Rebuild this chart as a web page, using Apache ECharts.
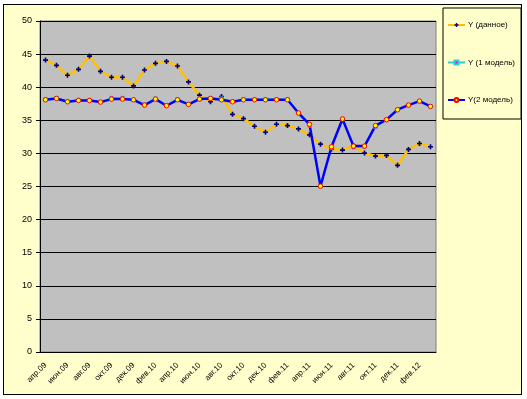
<!DOCTYPE html>
<html>
<head>
<meta charset="utf-8">
<script src="https://cdn.jsdelivr.net/npm/echarts@6/dist/echarts.min.js"></script>
<style>
  html, body { margin: 0; padding: 0; background: #fff; }
  #frame { position: absolute; left: 3px; top: 4px; width: 517px; height: 389px; background: #FFFFCC; border: 1px solid #000; }
  #chart { position: absolute; left: 0; top: 0; width: 527px; height: 399px; }
</style>
</head>
<body>
<div id="frame"></div>
<div id="chart"></div>
<script>
const months = [
  'апр.09', 'май.09', 'июн.09', 'июл.09', 'авг.09', 'сен.09', 'окт.09', 'ноя.09', 'дек.09',
  'янв.10', 'фев.10', 'мар.10', 'апр.10', 'май.10', 'июн.10', 'июл.10', 'авг.10', 'сен.10',
  'окт.10', 'ноя.10', 'дек.10', 'янв.11', 'фев.11', 'мар.11', 'апр.11', 'май.11', 'июн.11',
  'июл.11', 'авг.11', 'сен.11', 'окт.11', 'ноя.11', 'дек.11', 'янв.12', 'фев.12', 'мар.12'
];
const yActual = [
  44.1, 43.3, 41.8, 42.7, 44.7, 42.4, 41.5, 41.5, 40.2, 42.6, 43.6, 43.9,
  43.2, 40.8, 38.8, 37.8, 38.6, 35.9, 35.25, 34.1, 33.2, 34.4, 34.2, 33.7,
  32.8, 31.4, 30.65, 30.5, 31.2, 30.05, 29.6, 29.7, 28.2, 30.6, 31.5, 31.0
];
const yModel1 = [
  38.2, 38.4, 37.9, 38.1, 38.1, 37.8, 38.4, 38.4, 38.1, 37.4, 38.3, 37.3,
  38.2, 37.5, 38.3, 38.4, 38.3, 37.9, 38.2, 38.2, 38.2, 38.2, 38.2, 36.1,
  34.2, 25.0, 30.8, 35.2, 30.9, 31.0, 34.0, 35.0, 36.6, 37.3, 37.9, 37.1
];
const yModel2 = [
  38.1, 38.3, 37.8, 38.0, 38.0, 37.75, 38.2, 38.2, 38.1, 37.3, 38.2, 37.2,
  38.1, 37.4, 38.2, 38.3, 38.1, 37.8, 38.1, 38.1, 38.1, 38.1, 38.1, 36.1,
  34.4, 25.05, 31.0, 35.2, 31.1, 31.1, 34.2, 35.1, 36.6, 37.3, 37.9, 37.1
];

const chart = echarts.init(document.getElementById('chart'));
const font = 'Liberation Sans';
chart.setOption({
  animation: false,
  textStyle: { fontFamily: font },
  grid: {
    left: 40, right: 91, top: 21, bottom: 47,
    show: true, backgroundColor: '#C0C0C0', borderColor: '#808080', borderWidth: 1
  },
  legend: {
    orient: 'vertical',
    left: 443, top: 8,
    padding: [13, 6, 15, 4],
    itemGap: 29.5,
    itemWidth: 17, itemHeight: 5,
    borderColor: '#000', borderWidth: 1,
    textStyle: { fontFamily: font, fontSize: 8, color: '#000', padding: [0, 0, 0, -2] },
    data: ['Y (данное)', 'Y (1 модель)', 'Y(2 модель)']
  },
  xAxis: {
    type: 'category',
    data: months,
    boundaryGap: true,
    axisLine: { lineStyle: { color: '#000', width: 1 } },
    axisTick: { interval: 1, length: 4, lineStyle: { color: '#000' } },
    axisLabel: { interval: 1, rotate: 45, fontSize: 8, color: '#000', margin: 12 },
    splitLine: { show: false }
  },
  yAxis: {
    type: 'value',
    min: 0, max: 50, interval: 5,
    axisLine: { show: true, lineStyle: { color: '#000' } },
    axisTick: { show: true, length: 4, lineStyle: { color: '#000' } },
    axisLabel: { fontSize: 9, color: '#000', margin: 8 },
    splitLine: { lineStyle: { color: '#000', width: 1 } }
  },
  series: [
    {
      name: 'Y (данное)', type: 'line', data: yActual,
      symbol: 'path://M2,0H4V2H6V4H4V6H2V4H0V2H2Z', symbolSize: 5, showAllSymbol: true,
      lineStyle: { color: '#FFC000', width: 2.5 },
      itemStyle: { color: '#000080', borderWidth: 0 }
    },
    {
      name: 'Y (1 модель)', type: 'line', data: yModel1,
      symbol: 'rect', symbolSize: 3.5, showAllSymbol: true,
      lineStyle: { color: '#33CCCC', width: 1.2 },
      itemStyle: { color: '#FF00FF', borderColor: '#33CCCC', borderWidth: 0.5 }
    },
    {
      name: 'Y(2 модель)', type: 'line', data: yModel2,
      symbol: 'circle', symbolSize: 4.5, showAllSymbol: true,
      lineStyle: { color: '#0000FF', width: 2.5 },
      itemStyle: { color: '#FFFF00', borderColor: '#FF0000', borderWidth: 1 }
    }
  ]
});
</script>
</body>
</html>
